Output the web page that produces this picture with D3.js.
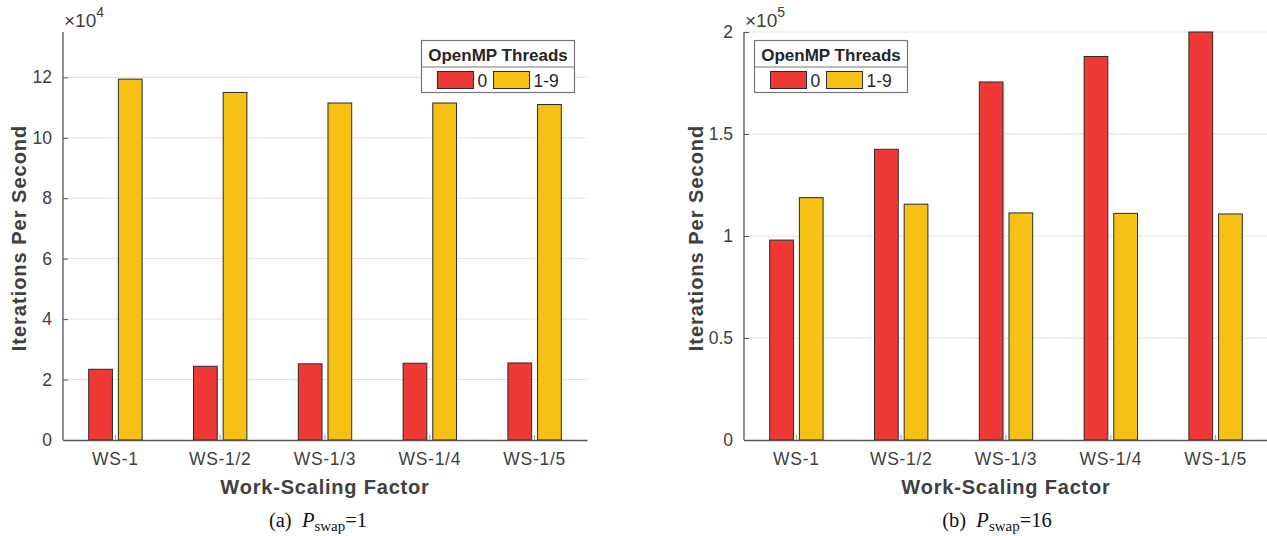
<!DOCTYPE html>
<html>
<head>
<meta charset="utf-8">
<script src="https://cdn.jsdelivr.net/npm/d3@7"></script>
<style>
    body { margin: 0; background: #ffffff; }
    svg { display: block; font-family: "Liberation Sans", Arial, sans-serif; }
</style>
</head>
<body>
<div id="chart"></div>
<script>
const categories = ['WS-1', 'WS-1/2', 'WS-1/3', 'WS-1/4', 'WS-1/5'];
const seriesNames = ['0', '1-9'];
const seriesColors = ['#ef3937', '#f6c015'];

// (a) P_swap = 1
const swap1Threads0 = [23400, 24400, 25200, 25400, 25500];
const swap1Threads19 = [119400, 115000, 111500, 111500, 111000];
const swap1Ticks = [0, 20000, 40000, 60000, 80000, 100000, 120000];

// (b) P_swap = 16
const swap16Threads0 = [98000, 142500, 175500, 188000, 200000];
const swap16Threads19 = [118800, 115600, 111300, 111100, 110800];
const swap16Ticks = [0, 50000, 100000, 150000, 200000];

const width = 1267;
const height = 536;

const svg = d3.select('#chart').append('svg')
    .attr('width', width)
    .attr('height', height);

function drawPanel(opts) {
    const g = svg.append('g');

    const x = d3.scaleBand()
        .domain(categories)
        .range([opts.left, opts.right])
        .paddingInner(0);

    const xInner = d3.scaleBand()
        .domain(seriesNames)
        .range([-26.7, 26.7])
        .paddingInner(0.2);

    const y = d3.scaleLinear()
        .domain([0, opts.yMax])
        .range([opts.bottom, opts.top]);

    // gridlines
    g.append('g')
        .selectAll('line')
        .data(opts.ticks.filter(t => t > 0))
        .enter().append('line')
        .attr('x1', opts.left)
        .attr('x2', opts.right)
        .attr('y1', d => y(d))
        .attr('y2', d => y(d))
        .attr('stroke', '#e1e1e1')
        .attr('stroke-width', 1);

    // bars
    const rows = categories.map((c, i) => ({ cat: c, values: [opts.s0[i], opts.s1[i]] }));
    const group = g.append('g')
        .selectAll('g')
        .data(rows)
        .enter().append('g')
        .attr('transform', d => `translate(${x(d.cat) + x.bandwidth() / 2},0)`);

    group.selectAll('rect')
        .data(d => d.values.map((v, k) => ({ name: seriesNames[k], value: v, k: k })))
        .enter().append('rect')
        .attr('x', d => xInner(d.name))
        .attr('width', xInner.bandwidth())
        .attr('y', d => y(d.value))
        .attr('height', d => opts.bottom - y(d.value))
        .attr('fill', d => seriesColors[d.k])
        .attr('stroke', '#2b2b2b')
        .attr('stroke-width', 1);

    // x axis
    const xAxis = d3.axisBottom(x).tickSize(-5).tickSizeOuter(0).tickPadding(13);
    const xa = g.append('g')
        .attr('transform', `translate(0,${opts.bottom})`)
        .call(xAxis);
    xa.select('.domain').attr('stroke', '#555').attr('stroke-width', 1.3);
    xa.selectAll('.tick line').attr('stroke', '#999');
    xa.selectAll('.tick text')
        .attr('fill', '#404040')
        .style('font-size', '17.5px')
        .style('letter-spacing', '0.7px');

    // y axis
    const yAxis = d3.axisLeft(y)
        .tickValues(opts.ticks)
        .tickFormat(d => d3.format('~g')(d / opts.scale))
        .tickSize(-5)
        .tickPadding(11);
    const ya = g.append('g')
        .attr('transform', `translate(${opts.left},0)`)
        .call(yAxis);
    ya.select('.domain').attr('d', `M0,${opts.top}V${opts.bottom}`)
        .attr('stroke', '#555').attr('stroke-width', 1.3);
    ya.selectAll('.tick line').attr('stroke', '#555');
    ya.selectAll('.tick text')
        .attr('fill', '#404040')
        .style('font-size', '17.5px');

    // exponent label
    const ex = g.append('text')
        .attr('x', opts.left + 1)
        .attr('y', 27)
        .attr('fill', '#404040')
        .style('font-size', '19px');
    ex.append('tspan').text('\u00d710');
    ex.append('tspan').attr('dy', -10).style('font-size', '14px').text(opts.exp);

    // axis titles
    g.append('text')
        .attr('x', (opts.left + opts.right) / 2)
        .attr('y', 494)
        .attr('text-anchor', 'middle')
        .attr('fill', '#404040')
        .style('font-size', '20px')
        .style('font-weight', 'bold')
        .style('letter-spacing', '0.8px')
        .text('Work-Scaling Factor');

    g.append('text')
        .attr('transform', `translate(${opts.yLabelX},${(opts.top + opts.bottom) / 2 + 2}) rotate(-90)`)
        .attr('text-anchor', 'middle')
        .attr('fill', '#404040')
        .style('font-size', '20px')
        .style('font-weight', 'bold')
        .style('letter-spacing', '1px')
        .text('Iterations Per Second');

    // legend
    const lg = g.append('g').attr('transform', `translate(${opts.legendX},${opts.legendY})`);
    lg.append('rect')
        .attr('width', 153).attr('height', 52)
        .attr('fill', '#ffffff')
        .attr('stroke', '#777').attr('stroke-width', 1.2);
    lg.append('line')
        .attr('x1', 0).attr('x2', 153)
        .attr('y1', 26.5).attr('y2', 26.5)
        .attr('stroke', '#777').attr('stroke-width', 1.2);
    lg.append('text')
        .attr('x', 76.5).attr('y', 20)
        .attr('text-anchor', 'middle')
        .attr('fill', '#262626')
        .style('font-size', '17px')
        .style('font-weight', 'bold')
        .text('OpenMP Threads');
    const items = lg.selectAll('.item')
        .data(seriesNames)
        .enter().append('g')
        .attr('transform', (d, i) => `translate(${16 + i * 56},31)`);
    items.append('rect')
        .attr('width', 36).attr('height', 17)
        .attr('fill', (d, i) => seriesColors[i])
        .attr('stroke', '#2b2b2b').attr('stroke-width', 1);
    items.append('text')
        .attr('x', 40).attr('y', 15)
        .attr('fill', '#262626')
        .style('font-size', '17.5px')
        .text(d => d);

    // caption
    const cap = g.append('text')
        .attr('x', opts.captionX)
        .attr('y', 527)
        .attr('text-anchor', 'middle')
        .attr('fill', '#111')
        .style('font-family', '"Liberation Serif", "Times New Roman", serif')
        .style('font-size', '20.5px');
    cap.append('tspan').text(opts.captionTag + '\u2002');
    cap.append('tspan').style('font-style', 'italic').text('P');
    cap.append('tspan').attr('dy', 4).style('font-size', '15px').text('swap');
    cap.append('tspan').attr('dy', -4).text('=' + opts.captionValue);
}

drawPanel({
    left: 63, right: 587, top: 32, bottom: 440,
    yMax: 135000, ticks: swap1Ticks, scale: 10000, exp: '4',
    s0: swap1Threads0, s1: swap1Threads19,
    yLabelX: 26, legendX: 421.5, legendY: 40.5,
    captionX: 318, captionTag: '(a)', captionValue: '1'
});

drawPanel({
    left: 744, right: 1268, top: 32, bottom: 440,
    yMax: 200000, ticks: swap16Ticks, scale: 100000, exp: '5',
    s0: swap16Threads0, s1: swap16Threads19,
    yLabelX: 703, legendX: 754.5, legendY: 40.5,
    captionX: 997, captionTag: '(b)', captionValue: '16'
});
</script>
</body>
</html>
